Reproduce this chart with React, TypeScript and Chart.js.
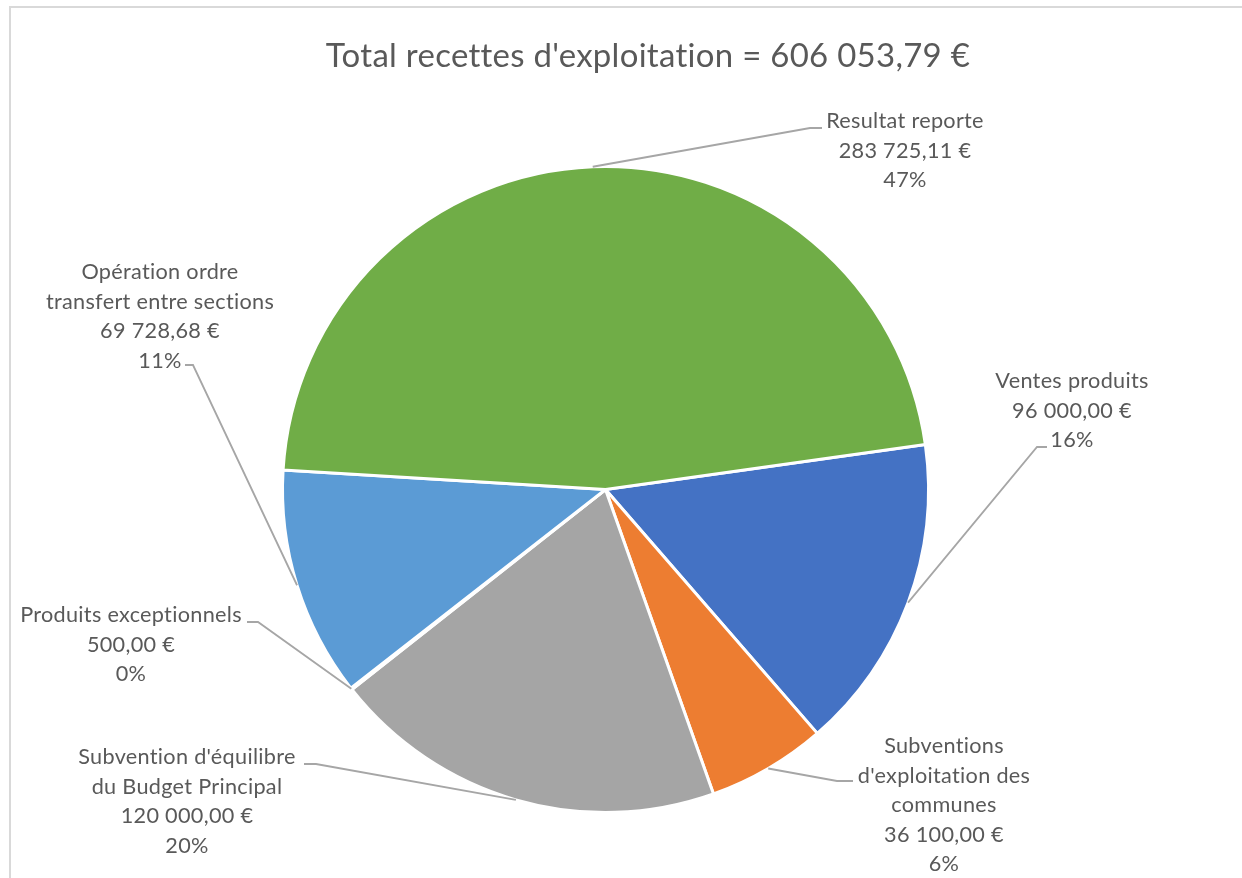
import React, { useEffect, useRef } from 'react';
import { Chart, registerables } from 'chart.js';

Chart.register(...registerables);

// ---- data ----
const categories: string[][] = [
  ['Ventes produits'],
  ['Subventions', "d'exploitation des", 'communes'],
  ["Subvention d'équilibre", 'du Budget Principal'],
  ['Produits exceptionnels'],
  ['Opération ordre', 'transfert entre sections'],
  ['Resultat reporte'],
];
const values: number[] = [96000, 36100, 120000, 500, 69728.68, 283725.11];
const percentLabels: string[] = ['16%', '6%', '20%', '0%', '11%', '47%'];
const titlePrefix = "Total recettes d'exploitation = ";

// ---- styles / layout ----
const colors = ['#4472C4', '#ED7D31', '#A5A5A5', '#FFC000', '#5B9BD5', '#70AD47'];
const labelCenterX = [1072, 944, 187, 131, 160, 905];
const labelFirstLineY = [381, 746, 757, 615, 272, 121];
const leaderElbow: [number, number][] = [[1037, 447], [837, 781], [316, 764], [258, 622], [193, 365], [810, 128]];
const leaderAttach: [number, number][] = [[1047, 447], [853, 781], [304, 764], [247, 622], [185, 365], [822, 128]];
const LINE_PITCH = 29.6;
const TEXT_COLOR = '#595959';
const FONT_FAMILY = 'Lato, "Open Sans", sans-serif';

function fmtEuro(v: number): string {
  const [i, d] = v.toFixed(2).split('.');
  return i.replace(/\B(?=(\d{3})+(?!\d))/g, ' ') + ',' + d + ' €';
}

function fitSize(ctx: CanvasRenderingContext2D, text: string, target: number): number {
  ctx.font = `20px ${FONT_FAMILY}`;
  const w = ctx.measureText(text).width;
  return (20 * target) / w;
}

const labelsPlugin = {
  id: 'excelLabels',
  afterDraw(chart: any) {
    const ctx: any = chart.ctx;
    ctx.save();
    // disable ligatures (e.g. "tt") via tiny letter spacing
    if ('letterSpacing' in ctx) ctx.letterSpacing = '0.3px';
    // frame
    ctx.strokeStyle = '#D9D9D9';
    ctx.lineWidth = 2;
    ctx.strokeRect(10, 7, 1400, 1000);

    // title
    const total = values.reduce((a, b) => a + b, 0);
    const title = titlePrefix + fmtEuro(total);
    const tSize = fitSize(ctx, title, 653);
    ctx.font = `${tSize}px ${FONT_FAMILY}`;
    ctx.fillStyle = TEXT_COLOR;
    ctx.textAlign = 'center';
    ctx.textBaseline = 'alphabetic';
    ctx.fillText(title, 648, 67);

    // labels
    const lSize = fitSize(ctx, 'transfert entre sections', 229);
    const meta = chart.getDatasetMeta(0);
    meta.data.forEach((arc: any, i: number) => {
      const p = arc.getProps(['x', 'y', 'startAngle', 'endAngle', 'outerRadius'], true);
      const mid = (p.startAngle + p.endAngle) / 2;
      const r = p.outerRadius;
      const px = p.x + Math.cos(mid) * r;
      const py = p.y + Math.sin(mid) * r;
      ctx.strokeStyle = '#A6A6A6';
      ctx.lineWidth = 1.8;
      ctx.beginPath();
      ctx.moveTo(px, py);
      ctx.lineTo(leaderElbow[i][0], leaderElbow[i][1]);
      ctx.lineTo(leaderAttach[i][0], leaderAttach[i][1]);
      ctx.stroke();

      const lines = [...categories[i], fmtEuro(values[i]), percentLabels[i]];
      ctx.font = `${lSize}px ${FONT_FAMILY}`;
      ctx.fillStyle = TEXT_COLOR;
      ctx.textAlign = 'center';
      ctx.textBaseline = 'middle';
      lines.forEach((ln, k) => {
        ctx.fillText(ln, labelCenterX[i], labelFirstLineY[i] + k * LINE_PITCH);
      });
    });
    ctx.restore();
  },
};

export default function App() {
  const ref = useRef<HTMLCanvasElement | null>(null);
  useEffect(() => {
    if (!ref.current) return;
    const chart = new Chart(ref.current, {
      type: 'pie',
      data: {
        labels: categories.map((c) => c.join(' ')),
        datasets: [
          {
            data: values,
            backgroundColor: colors,
            borderColor: '#FFFFFF',
            borderWidth: 3,
          },
        ],
      },
      options: {
        animation: false,
        responsive: true,
        maintainAspectRatio: false,
        rotation: 82,
        layout: { padding: { left: 281, right: 312, top: 165, bottom: 64 } },
        plugins: {
          legend: { display: false },
          tooltip: { enabled: false },
          title: { display: false },
        },
      },
      plugins: [labelsPlugin],
    });
    return () => chart.destroy();
  }, []);
  return (
    <div style={{ position: 'fixed', left: 0, top: 0, width: 1242, height: 878, background: '#FFFFFF' }}>
      <canvas ref={ref} />
    </div>
  );
}
